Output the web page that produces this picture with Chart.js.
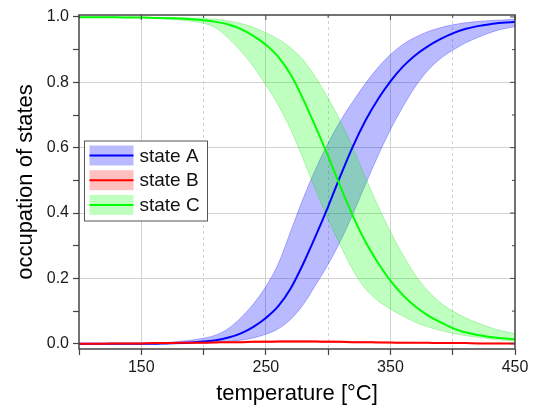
<!DOCTYPE html>
<html>
<head>
<meta charset="utf-8">
<script src="https://cdn.jsdelivr.net/npm/chart.js@4.4.1/dist/chart.umd.min.js"></script>
<style>
  html, body { margin: 0; padding: 0; background: #fff; }
</style>
</head>
<body>
<canvas id="chart" width="540" height="408"></canvas>
<script>
// temperature grid (°C)
const temps = [100, 110, 120, 130, 140, 150, 160, 170, 180, 190, 200, 210, 220, 230, 240, 250, 260, 270,
               280, 290, 300, 310, 320, 330, 340, 350, 360, 370, 380, 390, 400, 410, 420, 430, 440, 450];

// occupation: line + lower/upper band edge
const stateA   = [0, 0, 0, 0, 0, 0, 0, 0.001, 0.002, 0.004, 0.007, 0.011, 0.019, 0.032, 0.052, 0.079, 0.115, 0.170,
                  0.245, 0.330, 0.420, 0.515, 0.605, 0.683, 0.748, 0.803, 0.848, 0.883, 0.910, 0.932, 0.950, 0.963, 0.972, 0.978, 0.982, 0.985];
const stateALo = [0, 0, 0, 0, 0, 0, 0, 0, 0, 0.001, 0.002, 0.004, 0.007, 0.011, 0.018, 0.029, 0.046, 0.075,
                  0.120, 0.180, 0.243, 0.315, 0.398, 0.488, 0.575, 0.655, 0.725, 0.787, 0.836, 0.872, 0.898, 0.920, 0.937, 0.952, 0.963, 0.970];
const stateAHi = [0, 0, 0, 0, 0, 0.001, 0.002, 0.004, 0.007, 0.011, 0.017, 0.027, 0.047, 0.080, 0.122, 0.175, 0.245, 0.345,
                  0.445, 0.535, 0.614, 0.683, 0.742, 0.797, 0.845, 0.885, 0.916, 0.938, 0.955, 0.967, 0.976, 0.982, 0.986, 0.989, 0.991, 0.993];

const stateB   = [0, 0, 0, 0.001, 0.001, 0.001, 0.002, 0.002, 0.003, 0.003, 0.003, 0.004, 0.005, 0.005, 0.006, 0.006, 0.007, 0.007,
                  0.007, 0.007, 0.006, 0.006, 0.005, 0.005, 0.004, 0.004, 0.003, 0.003, 0.003, 0.002, 0.002, 0.002, 0.001, 0.001, 0.001, 0.001];
const stateBLo = [0, 0, 0, 0, 0, 0.001, 0.001, 0.001, 0.002, 0.002, 0.002, 0.003, 0.003, 0.003, 0.004, 0.004, 0.005, 0.005,
                  0.005, 0.005, 0.004, 0.004, 0.003, 0.003, 0.003, 0.002, 0.002, 0.002, 0.002, 0.001, 0.001, 0.001, 0.001, 0, 0, 0];
const stateBHi = [0, 0.001, 0.001, 0.002, 0.002, 0.002, 0.003, 0.003, 0.004, 0.004, 0.005, 0.006, 0.007, 0.007, 0.008, 0.009, 0.009, 0.010,
                  0.010, 0.009, 0.009, 0.008, 0.007, 0.007, 0.006, 0.005, 0.005, 0.004, 0.004, 0.003, 0.003, 0.003, 0.002, 0.002, 0.002, 0.001];

const stateC   = [0.999, 0.999, 0.999, 0.999, 0.998, 0.998, 0.997, 0.996, 0.995, 0.993, 0.990, 0.985, 0.977, 0.963, 0.942, 0.915, 0.878, 0.823,
                  0.748, 0.663, 0.574, 0.479, 0.390, 0.312, 0.248, 0.193, 0.149, 0.114, 0.087, 0.066, 0.048, 0.035, 0.027, 0.021, 0.017, 0.014];
const stateCLo = [0.999, 0.999, 0.999, 0.999, 0.998, 0.998, 0.996, 0.994, 0.991, 0.987, 0.981, 0.966, 0.935, 0.895, 0.848, 0.792, 0.730, 0.655,
                  0.565, 0.470, 0.380, 0.300, 0.225, 0.168, 0.132, 0.106, 0.085, 0.066, 0.052, 0.041, 0.032, 0.025, 0.020, 0.015, 0.011, 0.008];
const stateCHi = [1, 1, 1, 1, 1, 1, 0.999, 0.999, 0.998, 0.997, 0.996, 0.993, 0.988, 0.980, 0.968, 0.952, 0.932, 0.905,
                  0.868, 0.815, 0.752, 0.680, 0.598, 0.508, 0.422, 0.343, 0.272, 0.210, 0.162, 0.126, 0.100, 0.080, 0.064, 0.050, 0.039, 0.031];

// axis ticks
const xMajor = [150, 250, 350, 450];
const xMinor = [100, 200, 300, 400];
const yMajor = [0, 0.2, 0.4, 0.6, 0.8, 1.0];
const yMinor = [0.1, 0.3, 0.5, 0.7, 0.9];

const legendLabels = ['state A', 'state B', 'state C'];
const lineColors = ['#0000ff', '#ff0000', '#00ff00'];
const bandColors = ['rgba(0,0,255,0.27)', 'rgba(255,0,0,0.25)', 'rgba(0,255,0,0.25)'];
const bandEdges  = ['rgba(0,0,255,0.35)', 'rgba(255,0,0,0.3)', 'rgba(0,200,0,0.3)'];

const pts = arr => temps.map((t, i) => ({ x: t, y: arr[i] }));
const isIn = (list, v) => list.some(m => Math.abs(m - v) < 1e-6);

function band(hi, lo, k, order) {
    return [
        { data: pts(hi), borderColor: bandEdges[k], borderWidth: 0.8, backgroundColor: bandColors[k],
          fill: '+1', pointRadius: 0, cubicInterpolationMode: 'monotone', order: order },
        { data: pts(lo), borderColor: bandEdges[k], borderWidth: 0.8, fill: false,
          pointRadius: 0, cubicInterpolationMode: 'monotone', order: order }
    ];
}

function line(arr, k, order) {
    return { label: legendLabels[k], data: pts(arr), borderColor: lineColors[k], borderWidth: 2,
             fill: false, pointRadius: 0, cubicInterpolationMode: 'monotone', order: order };
}

// frame with inward ticks on top/right + boxed legend
const framePlugin = {
    id: 'frame',
    afterDraw(chart) {
        const { ctx, chartArea: a, scales: { x, y } } = chart;
        ctx.save();
        ctx.strokeStyle = '#444';
        ctx.lineWidth = 1.5;
        ctx.strokeRect(a.left, a.top, a.right - a.left, a.bottom - a.top);
        ctx.lineWidth = 1;
        ctx.beginPath();
        xMajor.concat(xMinor).forEach(v => {
            const px = x.getPixelForValue(v), len = isIn(xMajor, v) ? 5 : 3;
            ctx.moveTo(px, a.top); ctx.lineTo(px, a.top + len);
        });
        yMajor.concat(yMinor).forEach(v => {
            const py = y.getPixelForValue(v), len = isIn(yMajor, v) ? 5 : 3;
            ctx.moveTo(a.right, py); ctx.lineTo(a.right - len, py);
        });
        ctx.stroke();

        // legend
        const bx = a.left + 5.5, by = a.top + 126, bw = 123, bh = 80;
        ctx.fillStyle = '#fff';
        ctx.fillRect(bx, by, bw, bh);
        ctx.strokeStyle = '#555';
        ctx.lineWidth = 1;
        ctx.strokeRect(bx, by, bw, bh);
        ctx.font = '19px "Liberation Sans", Arial, sans-serif';
        ctx.textBaseline = 'middle';
        legendLabels.forEach((lab, k) => {
            const cy = by + 14.5 + k * 24.7;
            ctx.fillStyle = bandColors[k];
            ctx.fillRect(bx + 5, cy - 10, 44, 20);
            ctx.strokeStyle = lineColors[k];
            ctx.lineWidth = 2;
            ctx.beginPath(); ctx.moveTo(bx + 5, cy); ctx.lineTo(bx + 49, cy); ctx.stroke();
            ctx.fillStyle = '#111';
            ctx.fillText(lab, bx + 55, cy + 1);
        });
        ctx.restore();
    }
};

Chart.defaults.font.family = '"Liberation Sans", Arial, sans-serif';
Chart.defaults.color = '#1a1a1a';

new Chart(document.getElementById('chart'), {
    type: 'line',
    data: {
        datasets: [
            ...band(stateAHi, stateALo, 0, 9),
            ...band(stateBHi, stateBLo, 1, 8),
            ...band(stateCHi, stateCLo, 2, 7),
            line(stateA, 0, 3),
            line(stateC, 2, 2),
            line(stateB, 1, 1)
        ]
    },
    options: {
        responsive: false,
        animation: false,
        layout: { padding: { top: 15, right: 25, left: 0, bottom: 0 } },
        plugins: { legend: { display: false }, tooltip: { enabled: false } },
        scales: {
            x: {
                type: 'linear', min: 100, max: 450,
                afterBuildTicks: s => { s.ticks = xMinor.concat(xMajor).sort((p, q) => p - q).map(v => ({ value: v })); },
                afterFit: s => { s.height = 59; },
                ticks: {
                    font: { size: 16 }, padding: 3, maxRotation: 0, autoSkip: false,
                    callback: v => isIn(xMajor, v) ? String(v) : ''
                },
                grid: {
                    color: c => (c.tick && isIn([150, 250, 350, 200, 300, 400], c.tick.value)) ? '#d2d2d2' : 'rgba(0,0,0,0)',
                    tickColor: '#444', tickLength: 6, tickWidth: 1.2
                },
                border: { display: false, dash: c => (c.tick && isIn(xMinor, c.tick.value)) ? [3, 3] : [] },
                title: { display: true, text: 'temperature [°C]', font: { size: 22 }, color: '#000', padding: { top: 0, bottom: 1 } }
            },
            y: {
                min: -0.016, max: 1.006,
                afterBuildTicks: s => { s.ticks = yMajor.concat(yMinor).sort((p, q) => p - q).map(v => ({ value: v })); },
                afterFit: s => { s.width = 79; },
                ticks: {
                    font: { size: 16 }, padding: 4, autoSkip: false,
                    callback: v => isIn(yMajor, v) ? v.toFixed(1) : ''
                },
                grid: {
                    color: c => (c.tick && isIn([0.2, 0.4, 0.6, 0.8], c.tick.value)) ? '#d2d2d2' : 'rgba(0,0,0,0)',
                    tickColor: '#444', tickLength: 6, tickWidth: 1.2
                },
                border: { display: false },
                title: { display: true, text: 'occupation of states', font: { size: 22 }, color: '#000', padding: { top: 13, bottom: 0 } }
            }
        }
    },
    plugins: [framePlugin]
});
</script>
</body>
</html>
